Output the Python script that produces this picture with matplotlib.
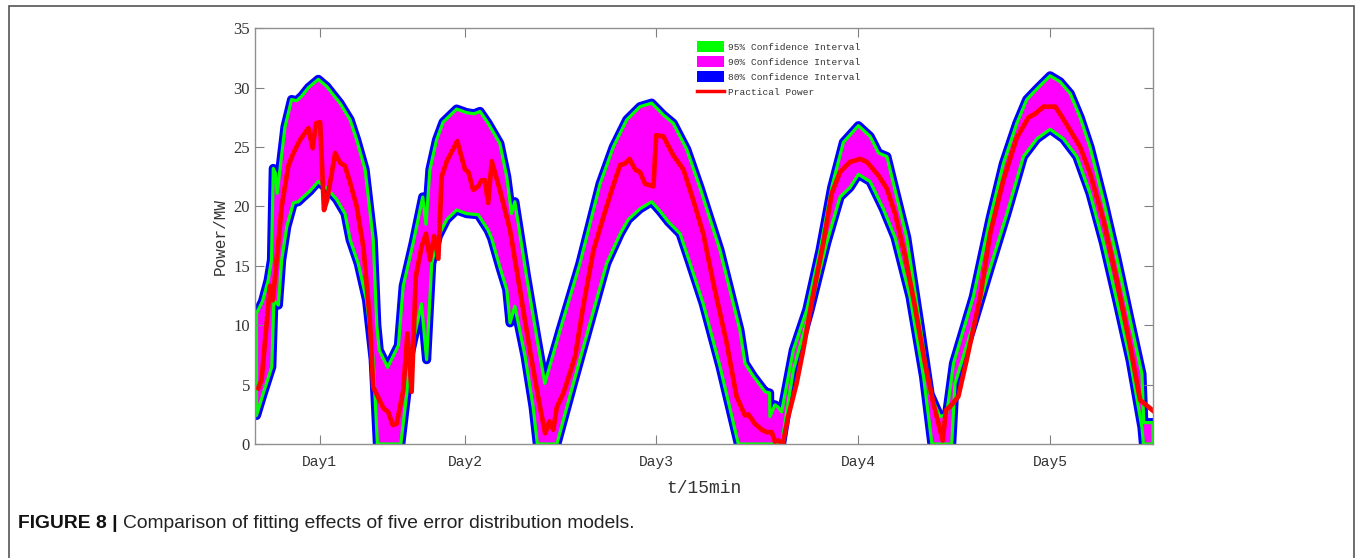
import numpy as np
import matplotlib.pyplot as plt
from matplotlib.patches import Patch, Rectangle
from matplotlib.lines import Line2D
import matplotlib.patheffects as pe

# Curvas (x en muestras de 15 min, y en MW)
x_sup = [0.5, 2.5, 4.4, 5.5, 6.1, 6.8, 7.4, 8.5, 10, 12.2, 13.9, 15.6, 17.8, 21.1, 23.9,
         28.3, 31.7, 33.9, 36.7, 39.4, 40.6, 41.4, 44.2, 47.8, 49.4, 52.7, 55.9, 57.0,
         58.3, 60.5, 62.7, 67.2, 70.5, 73, 75, 77.7, 80, 81.6, 83.9, 85.5, 86.6, 90.5,
         93.9, 96.6, 101.7, 108.3, 115, 119.4, 123.9, 128.3, 132.2, 136.1, 139.4, 143.9,
         148.3, 155, 161.6, 163.3, 166.1, 170, 171.5, 171.6, 173.3, 174.4, 175.5, 179.4,
         183.9, 188.3, 192.2, 196.1, 201.1, 205, 207.8, 210.6, 213.3, 217.2, 221.7, 225,
         228.3, 230.5, 232.8, 239.4, 245, 249.4, 253.9, 257.2, 260.6, 265, 268.3, 271.7,
         275, 278.3, 282.8, 287.2, 291.7, 295.6, 296.2, 299.3]
y_sup = [11.0, 12.0, 13.8, 15.5, 23.2, 22.8, 21.1, 23.5, 26.7, 29.0, 28.9, 29.3, 30.0, 30.7, 30.1,
         28.7, 27.3, 25.6, 23.1, 17.2, 10.0, 7.9, 6.45, 8.3, 13.3, 16.9, 20.8, 18.5,
         23.1, 25.6, 27.1, 28.2, 27.9, 27.8, 28.0, 27.0, 26.0, 25.3, 22.5, 19.4, 20.4, 14.1,
         9.0, 5.1, 9.6, 15.2, 21.9, 25.0, 27.3, 28.4, 28.7, 27.7, 27.0, 24.8,
         21.6, 16.3, 9.6, 6.8, 5.7, 4.4, 4.3, 2.3, 3.3, 3.1, 2.7, 7.9,
         11.3, 16.3, 21.6, 25.4, 26.8, 25.9, 24.5, 24.2, 21.4, 17.4, 9.9, 4.2,
         2.3, 2.5, 6.8, 12.4, 19.0, 23.6, 27.0, 29.0, 29.9, 31.0, 30.5, 29.5,
         27.5, 25.0, 20.5, 15.7, 10.4, 5.9, 1.8, 1.8]

x_inf = [0.5, 2.8, 5.6, 6.3, 7.8, 8.9, 10.6, 12.8, 14.4, 16.1, 18.3, 21.1, 24.4, 27.2, 30,
         31.7, 34.4, 37.2, 39.4, 40.8, 48.6, 50.6, 51.6, 55.5, 57.2, 58.9, 61.1, 63.9, 67.2,
         70.5, 74.4, 77.7, 78.9, 81.6, 83.9, 85, 86.6, 90, 92.7, 94.1, 100.6, 106.1, 111.7,
         117.2, 121.7, 124.4, 128.3, 132.2, 135, 137.8, 141.7, 145, 149.4, 155, 161.1,
         175.5, 179.4, 185, 190.5, 195, 198.3, 201.1, 205, 209.4, 213.3, 218.3, 222.8,
         225.6, 232.2, 233.3, 239.4, 245, 250.6, 256.1, 260.6, 265, 269.4, 273.9, 278.3,
         282.8, 287.2, 291.7, 295.6, 296.1, 299.3]
y_inf = [2.4, 4.3, 6.5, 12.1, 11.7, 15.5, 18.3, 20.3, 20.4, 20.8, 21.3, 22.1, 21.4, 20.6, 19.4,
         17.2, 15.2, 12.1, 7.1, 0, 0, 4.3, 7.4, 11.8, 7.1, 15.2, 17.5, 18.9, 19.7,
         19.4, 19.3, 18.0, 17.3, 14.9, 13.0, 10.2, 11.6, 7.4, 3.1, 0, 0, 5.1, 10.2,
         15.2, 17.7, 18.9, 19.8, 20.4, 19.6, 18.7, 17.7, 15.2, 11.8, 6.5, 0,
         0, 6.2, 11.3, 16.9, 20.8, 21.6, 22.7, 22.1, 19.8, 17.4, 12.4, 5.7,
         0, 0, 5.1, 10.1, 14.8, 19.4, 24.2, 25.7, 26.5, 25.7, 24.2, 21.1,
         16.9, 12.1, 7.0, 1.4, 0, 0]

x_real = [1.1, 2.2, 5, 5.9, 7, 8.9, 11.1, 12.8, 15, 17.8, 19.2, 20.3, 21.7, 23, 24.1, 26.7,
          28.3, 30, 31.7, 33.9, 36.1, 38.3, 39.4, 42.8, 44.4, 45.9, 47.2, 49.4, 50.8, 52.2,
          53.6, 55.5, 57, 58.3, 59.7, 61.1, 62.2, 63.9, 67.4, 70, 71.1, 72.7, 74.4, 75.5,
          76.6, 77.7, 78.9, 81.6, 85, 88.3, 91.6, 95, 96.7, 98.1, 99.4, 100.6, 102.8, 105,
          106.7, 109.4, 112.8, 116.1, 118.9, 121.7, 123.3, 124.8, 126.7, 128.3, 130, 132.8,
          133.7, 136.1, 139.4, 142.8, 146.1, 149.4, 152.8, 157.2, 160.5, 163.3, 164.4, 166.6,
          168.9, 170.5, 172.2, 173.3, 174.4, 175.9, 177.7, 180.5, 182.7, 186.1, 189.4, 192.2,
          195, 198.3, 201.7, 203.9, 207.8, 210.6, 213.3, 216.7, 220, 223.3, 226.1, 228.1,
          229.2, 230.3, 232.2, 234.4, 237.2, 241.7, 245, 249.4, 253.9, 257.8, 260, 262.8,
          266.7, 268.3, 271.7, 275, 278.3, 282.8, 287.2, 291.7, 295, 299.3]
y_real = [4.7, 5.4, 13.3, 12.1, 14.9, 20.0, 23.4, 24.5, 25.6, 26.6, 24.9, 27.0, 27.1, 19.7, 20.6, 24.5,
          23.7, 23.4, 22.0, 20.0, 16.6, 10.4, 4.8, 3.0, 2.7, 1.6, 1.7, 4.5, 9.3, 4.4,
          14.1, 16.6, 17.7, 15.5, 17.5, 15.6, 22.5, 23.8, 25.5, 23.1, 22.9, 21.4, 21.7, 22.2,
          22.2, 20.3, 23.8, 21.4, 18.0, 13.0, 7.9, 3.1, 0.9, 1.9, 1.2, 3.1, 4.3, 6.0,
          7.4, 11.6, 16.3, 19.1, 21.4, 23.5, 23.6, 24.0, 23.1, 22.9, 21.9, 21.7,
          26.0, 25.9, 24.3, 23.1, 20.5, 17.7, 13.5, 8.5, 4.0, 2.4, 2.5, 1.7,
          1.2, 1.0, 1.0, 0.2, 0.3, 0.0, 2.3, 5.1, 7.9, 12.7, 16.9, 21.1,
          22.9, 23.75, 24.0, 23.75, 22.6, 21.5, 19.4, 15.8, 11.5, 6.8, 3.4, 1.4,
          0.3, 2.85, 3.3, 4.0, 7.1, 12.4, 17.7, 22.2, 25.8, 27.5, 27.8, 28.4,
          28.4, 27.8, 26.4, 25.0, 22.8, 18.8, 13.8, 8.2, 3.7, 2.8]

dias_pos = [21.6, 70, 133.7, 201, 265]
dias = ['Day1', 'Day2', 'Day3', 'Day4', 'Day5']
etiquetas = ['95% Confidence Interval', '90% Confidence Interval',
             '80% Confidence Interval', 'Practical Power']


def graficar():
    fig = plt.figure(figsize=(13.57, 5.58), dpi=100)
    ax = fig.add_axes([0.1879, 0.2043, 0.6618, 0.745])

    # Banda: relleno magenta, borde verde y trazo azul por fuera
    xs = np.concatenate([x_sup, x_inf[::-1]])
    ys = np.concatenate([y_sup, y_inf[::-1]])
    ax.fill(xs, ys, facecolor='#ff00ff', edgecolor='#00ff00', linewidth=2.3,
            joinstyle='round',
            path_effects=[pe.Stroke(linewidth=6.6, foreground='#0000ff'), pe.Normal()])
    ax.plot(x_real, y_real, color='#ff0000', linewidth=3.4, solid_joinstyle='round')

    ax.set_xlim(0, 299.3)
    ax.set_ylim(0, 35)
    ax.set_xticks(dias_pos)
    ax.set_xticklabels(dias, fontfamily='Liberation Mono', fontsize=10.5)
    ax.set_yticks(range(0, 36, 5))
    for t in ax.get_yticklabels():
        t.set_fontfamily('Liberation Serif')
        t.set_fontsize(12)
    ax.tick_params(direction='in', top=True, right=True, length=6.5, width=0.8,
                   color='#808080', labelcolor='#333333')
    ax.tick_params(axis='x', pad=8)
    for s in ax.spines.values():
        s.set_color('#909090')
        s.set_linewidth(1.0)
    ax.set_ylabel('Power/MW', fontfamily='Liberation Mono', fontsize=11.5,
                  color='#333333', labelpad=4)
    ax.set_xlabel('t/15min', fontfamily='Liberation Mono', fontsize=13,
                  color='#333333', labelpad=8)

    manijas = [Patch(facecolor='#00ff00', edgecolor='none'),
               Patch(facecolor='#ff00ff', edgecolor='none'),
               Patch(facecolor='#0000ff', edgecolor='none'),
               Line2D([], [], color='#ff0000', linewidth=2.5)]
    fig.legend(manijas, etiquetas, loc='upper left', bbox_to_anchor=(0.5136, 0.926),
               frameon=False, borderpad=0, borderaxespad=0,
               prop={'family': 'Liberation Mono', 'size': 6.8},
               handlelength=2.9, handleheight=1.3, handletextpad=0.35,
               labelspacing=0.5, labelcolor='#333333')

    # Marco exterior (abierto por abajo)
    fig.add_artist(Rectangle((9 / 1357, -0.05), (1354 - 9) / 1357, 1.05 - 6 / 558,
                             transform=fig.transFigure, fill=False,
                             edgecolor='#555555', linewidth=1.2))

    t1 = fig.text(18 / 1357, 1 - 528 / 558, 'FIGURE 8 |', fontfamily='Liberation Sans',
                  fontweight='bold', fontsize=13.9, color='#111111')
    fig.canvas.draw()
    bb = t1.get_window_extent()
    fig.text((bb.x1 + 5) / 1357, 1 - 528 / 558,
             'Comparison of fitting effects of five error distribution models.',
             fontfamily='Liberation Sans', fontsize=13.9, color='#222222')

    fig.savefig('out.png', dpi=100)


if __name__ == '__main__':
    graficar()
